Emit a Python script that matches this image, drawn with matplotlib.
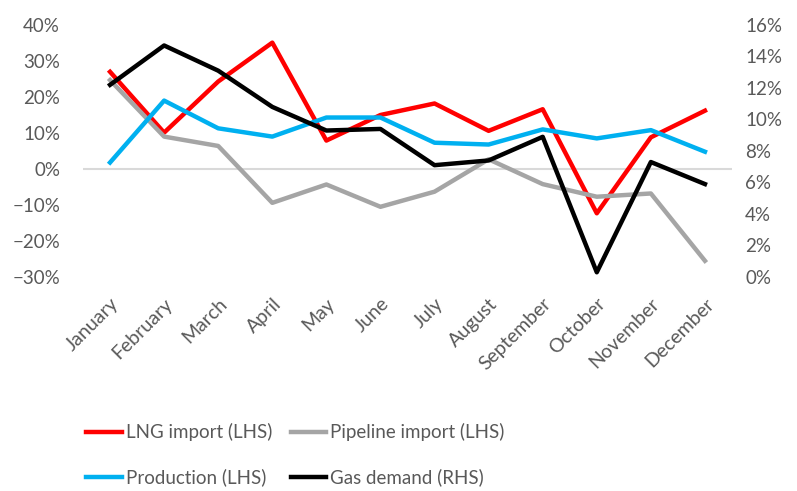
import matplotlib.pyplot as plt
from matplotlib.ticker import PercentFormatter

plt.rcParams["font.family"] = ["Lato", "DejaVu Sans"]

months = ["January", "February", "March", "April", "May", "June", "July",
          "August", "September", "October", "November", "December"]
lng_import = [27.0, 10.1, 24.3, 35.1, 7.9, 15.0, 18.2, 10.6, 16.6, -12.3, 8.8, 16.2]
pipeline_import = [24.7, 9.0, 6.4, -9.4, -4.3, -10.5, -6.3, 2.7, -4.2, -7.7, -6.8, -25.5]
production = [1.8, 19.0, 11.3, 9.0, 14.3, 14.3, 7.3, 6.8, 11.0, 8.5, 10.8, 4.8]
gas_demand = [12.2, 14.7, 13.1, 10.8, 9.3, 9.4, 7.1, 7.4, 8.9, 0.3, 7.3, 5.9]

txt = "#595959"
fig = plt.figure(figsize=(7.97, 4.91), dpi=100)
ax = fig.add_axes([83 / 797, 1 - 277 / 491, (732 - 83) / 797, 252 / 491])
ax2 = ax.twinx()

x = list(range(len(months)))
ax.axhline(0, color="#d9d9d9", linewidth=1.5, zorder=1)
l1, = ax.plot(x, lng_import, color="#ff0000", linewidth=3.2, label="LNG import (LHS)")
l2, = ax.plot(x, pipeline_import, color="#a5a5a5", linewidth=3.2, label="Pipeline import (LHS)")
l3, = ax.plot(x, production, color="#00b0f0", linewidth=3.2, label="Production (LHS)")
l4, = ax2.plot(x, gas_demand, color="black", linewidth=3.2, label="Gas demand (RHS)")

ax.set_xlim(-0.5, 11.5)
ax.set_ylim(-30, 40)
ax.set_yticks(range(-30, 41, 10))
ax.yaxis.set_major_formatter(PercentFormatter(decimals=0))
ax2.set_ylim(0, 16)
ax2.set_yticks(range(0, 17, 2))
ax2.yaxis.set_major_formatter(PercentFormatter(decimals=0))

ax.set_xticks(x)
ax.set_xticklabels(months, rotation=45, ha="right", rotation_mode="anchor")

for a in (ax, ax2):
    for s in a.spines.values():
        s.set_visible(False)
    a.tick_params(length=0, labelsize=13.5, labelcolor=txt)
ax.tick_params(axis="y", pad=16.5)
ax.tick_params(axis="x", pad=13, labelsize=14)
ax2.tick_params(axis="y", pad=9.5)

fig.legend(handles=[l1, l3, l2, l4], ncol=2, frameon=False,
           loc="center left", bbox_to_anchor=(73 / 797, 1 - 455 / 491),
           fontsize=13.5, labelcolor=txt, handlelength=1.9, handletextpad=0.2,
           columnspacing=1.0, labelspacing=1.45, borderpad=0.2)

plt.savefig("out.png", dpi=100)
